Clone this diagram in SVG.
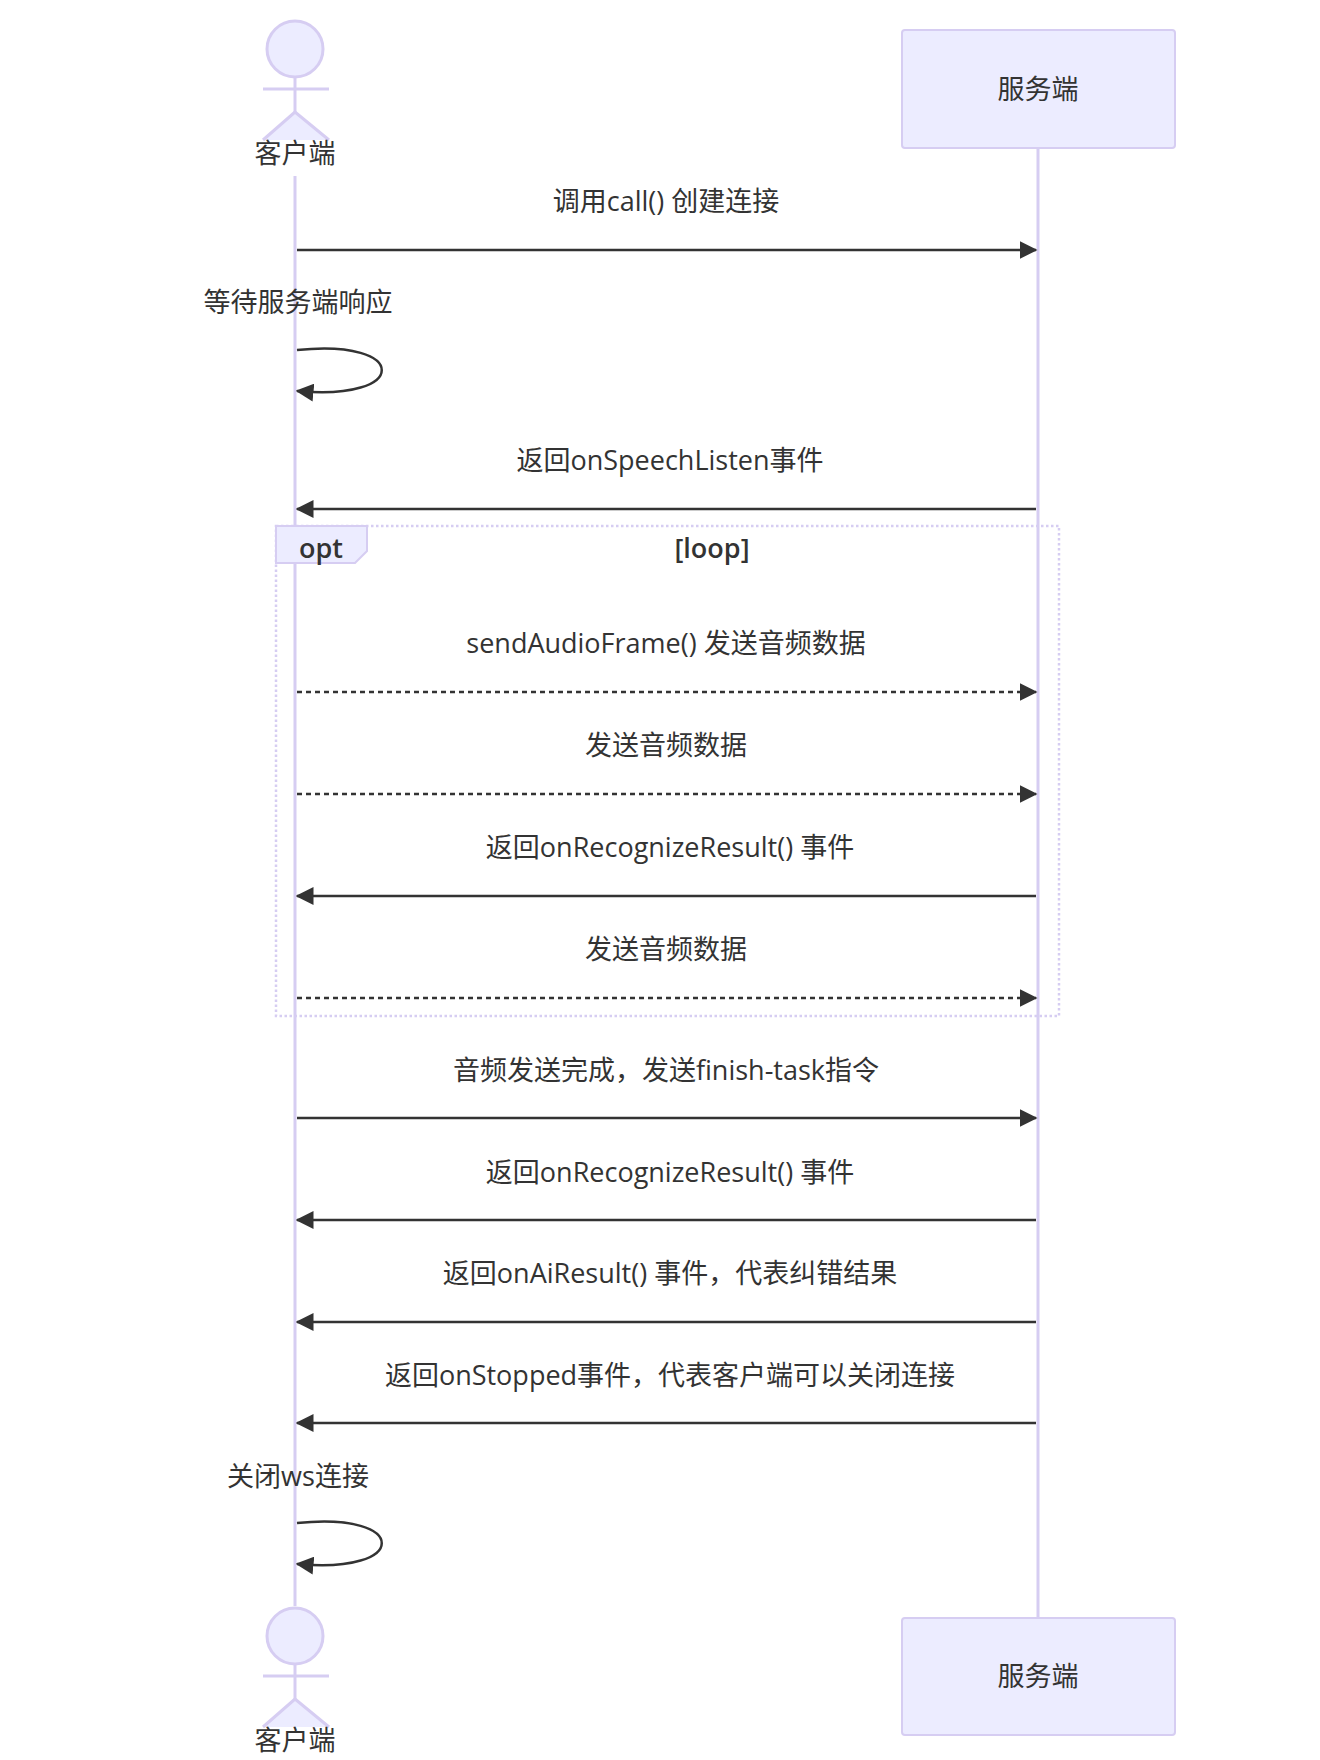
<svg xmlns="http://www.w3.org/2000/svg" width="1320" height="1760" viewBox="0 0 1320 1760">
<defs>
<marker id="ah" viewBox="0 0 12 12" refX="11" refY="6" markerWidth="18" markerHeight="18" markerUnits="userSpaceOnUse" orient="auto"><path d="M0,0 L12,6 L0,12 z" fill="#333"/></marker>
<style>
text{font-family:"Open Sans","Noto Sans CJK SC",sans-serif;font-size:27px;fill:#333;text-anchor:middle}
.life{stroke:#d6cdf2;stroke-width:3}
.box{fill:#ececff;stroke:#d6cdf2;stroke-width:2}
.act{fill:#ececff;stroke:#d6cdf2;stroke-width:3}
.m{stroke:#333;stroke-width:2.5;fill:none;marker-end:url(#ah)}
.d{stroke-dasharray:5,4}
.lb{font-weight:600}
</style>
</defs>
<rect width="1320" height="1760" fill="#fff"/>
<line class="life" x1="295" y1="176" x2="295" y2="1606"/>
<line class="life" x1="1038" y1="148" x2="1038" y2="1618"/>
<g id="client-top">
<circle class="act" cx="295" cy="49" r="28"/>
<line class="act" x1="295" y1="77" x2="295" y2="112"/><line class="act" x1="263" y1="89" x2="329" y2="89"/>
<path class="act" d="M263,140 L295,112 L329,140" fill="none"/>
<text x="295" y="163">客户端</text></g>
<g id="server-top"><rect class="box" x="902" y="30" width="273" height="118" rx="3"/><text x="1038" y="99">服务端</text></g>
<g id="client-bottom">
<circle class="act" cx="295" cy="1636" r="28"/>
<line class="act" x1="295" y1="1664" x2="295" y2="1699"/><line class="act" x1="263" y1="1676" x2="329" y2="1676"/>
<path class="act" d="M263,1727 L295,1699 L329,1727" fill="none"/>
<text x="295" y="1750">客户端</text></g>
<g id="server-bottom"><rect class="box" x="902" y="1618" width="273" height="117" rx="3"/><text x="1038" y="1686">服务端</text></g>
<g id="opt">
<rect x="276" y="526" width="783" height="490" fill="none" stroke="#d6cdf2" stroke-width="2.5" stroke-dasharray="2.5,2.5"/>
<path d="M276,526 H367 V551 L355,563 H276 Z" fill="#ececff" stroke="#d6cdf2" stroke-width="2"/>
<text class="lb" x="321" y="558">opt</text><text class="lb" x="712" y="558">[loop]</text></g>
<g id="connectors">
<text x="666" y="211">调用call() 创建连接</text>
<line class="m" x1="297" y1="250" x2="1036" y2="250"/>
<text x="298" y="312">等待服务端响应</text>
<path class="m" d="M297,350 C410,338 410,402 297,391"/>
<text x="670" y="470">返回onSpeechListen事件</text>
<line class="m" x1="1036" y1="509" x2="297" y2="509"/>
<text x="666" y="653">sendAudioFrame() 发送音频数据</text>
<line class="m d" x1="297" y1="692" x2="1036" y2="692"/>
<text x="666" y="755">发送音频数据</text>
<line class="m d" x1="297" y1="794" x2="1036" y2="794"/>
<text x="670" y="857">返回onRecognizeResult() 事件</text>
<line class="m" x1="1036" y1="896" x2="297" y2="896"/>
<text x="666" y="959">发送音频数据</text>
<line class="m d" x1="297" y1="998" x2="1036" y2="998"/>
<text x="666" y="1080">音频发送完成，发送finish-task指令</text>
<line class="m" x1="297" y1="1118" x2="1036" y2="1118"/>
<text x="670" y="1182">返回onRecognizeResult() 事件</text>
<line class="m" x1="1036" y1="1220" x2="297" y2="1220"/>
<text x="670" y="1283">返回onAiResult() 事件，代表纠错结果</text>
<line class="m" x1="1036" y1="1322" x2="297" y2="1322"/>
<text x="670" y="1385">返回onStopped事件，代表客户端可以关闭连接</text>
<line class="m" x1="1036" y1="1423" x2="297" y2="1423"/>
<text x="298" y="1486">关闭ws连接</text>
<path class="m" d="M297,1523 C410,1511 410,1575 297,1564"/>
</g>
</svg>
